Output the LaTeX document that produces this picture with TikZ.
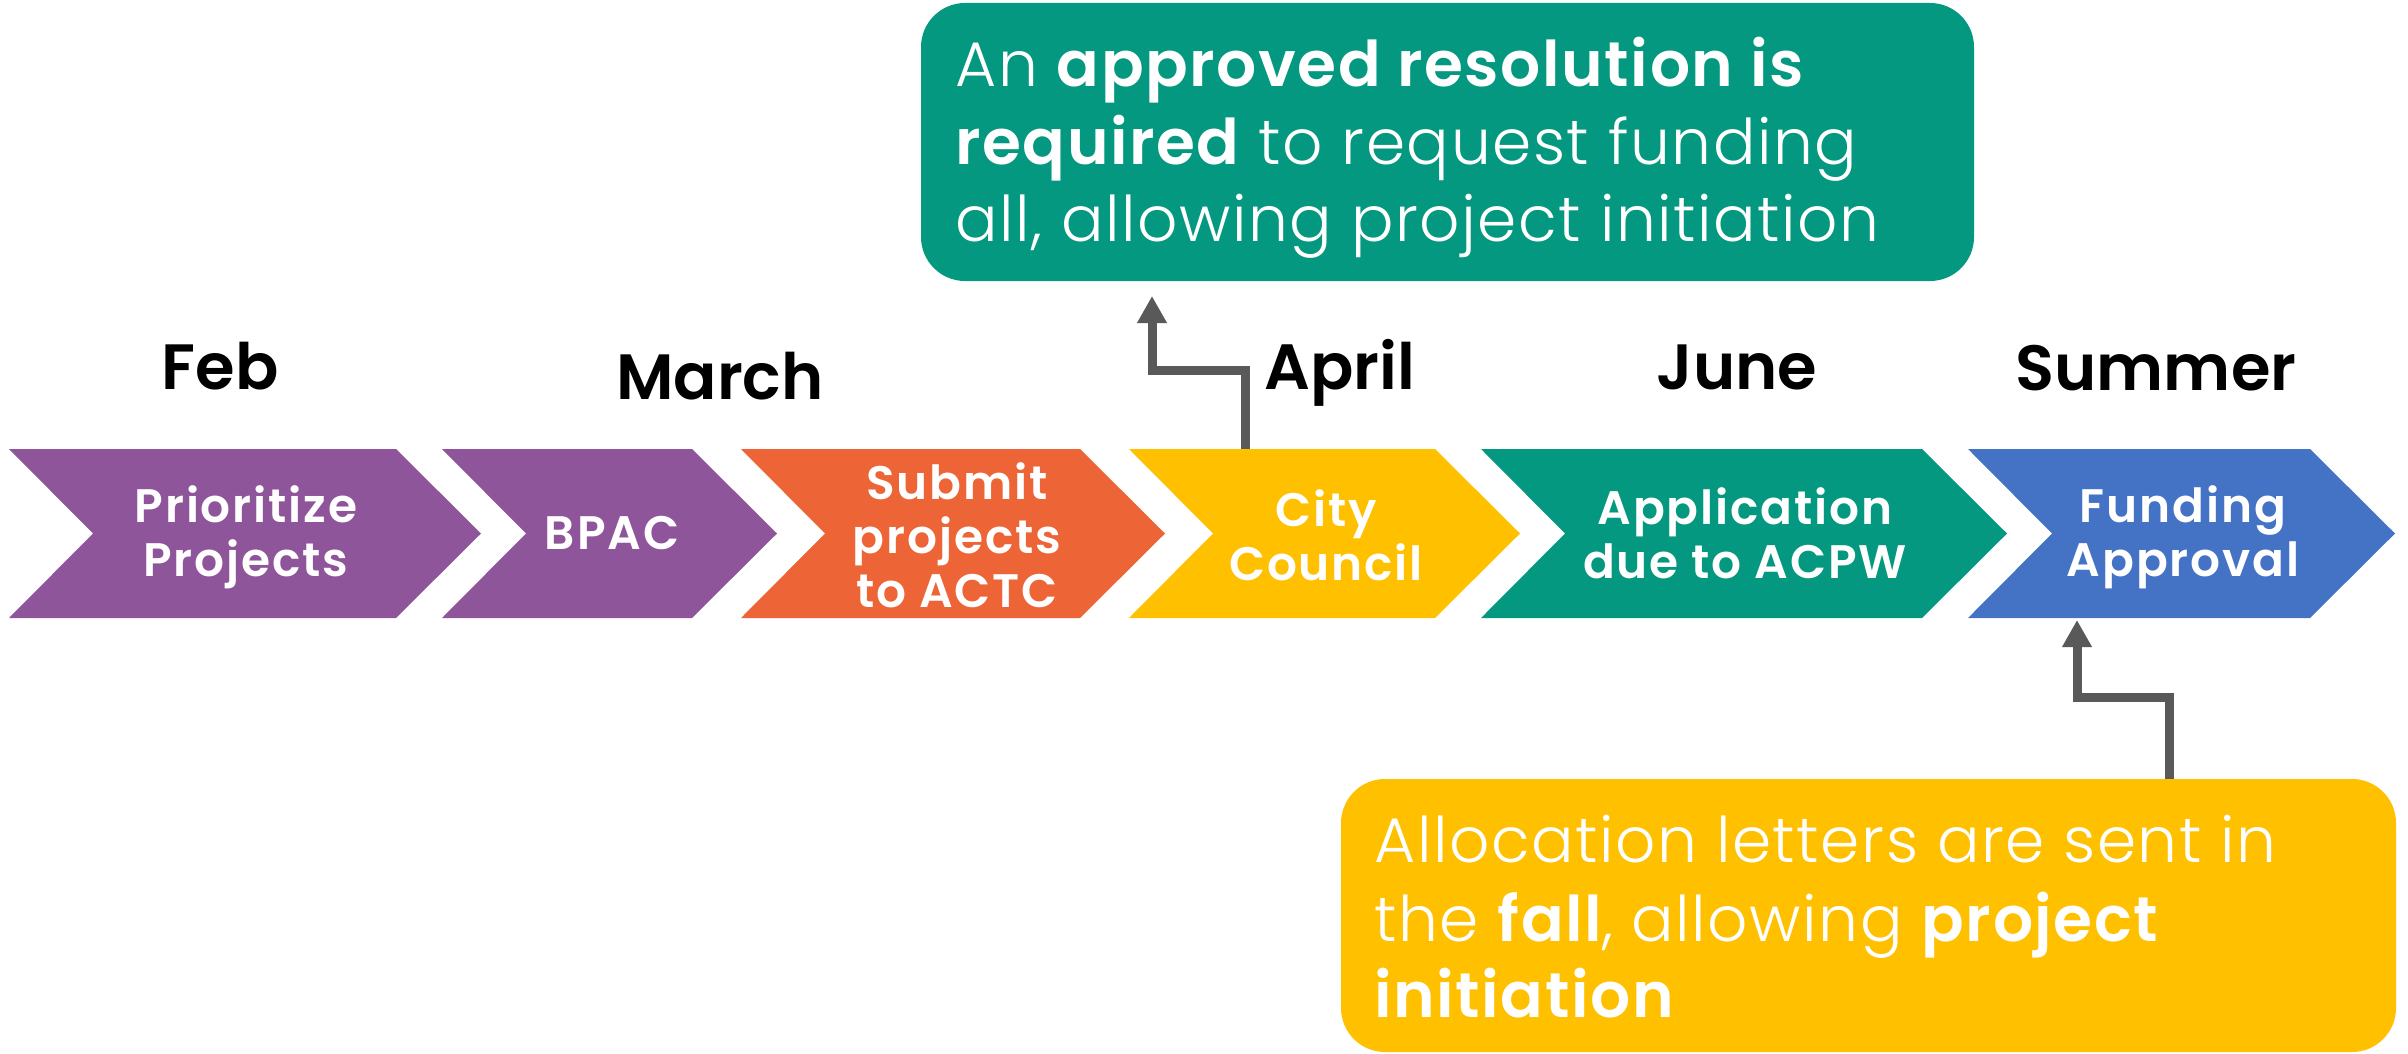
\documentclass[tikz,border=0pt]{standalone}
\usepackage{fontspec}
\setmainfont{Poppins}
\newfontfamily\lightf{Poppins Light}[LetterSpace=2.5]
\newfontfamily\semif{Poppins SemiBold}
\newfontfamily\semiw{Poppins SemiBold}[LetterSpace=2.5]
\newfontfamily\semic{Poppins SemiBold}[LetterSpace=4]
\usetikzlibrary{arrows.meta}
\definecolor{cpurple}{HTML}{8F559A}
\definecolor{corange}{HTML}{ED6436}
\definecolor{cyellow}{HTML}{FFC000}
\definecolor{cteal}{HTML}{03987F}
\definecolor{cblue}{HTML}{4472C4}
\definecolor{cgray}{HTML}{595959}
\newcommand\mychev[3]{%
  \fill[#3] (#1,449) -- (#2,449) -- (#2+85,533.5) -- (#2,618) -- (#1,618) -- (#1+84,533.5) -- cycle;}
\tikzset{
  chevtext/.style={text=white, align=center, inner sep=0pt,
    font=\semic\fontsize{23.5pt}{27pt}\selectfont},
  month/.style={text=black, anchor=base, inner sep=0pt,
    font=\semif\fontsize{32pt}{36pt}\selectfont},
  calltext/.style={text=white, anchor=base west, inner sep=0pt,
    font=\lightf\fontsize{31.5pt}{38pt}\selectfont},
  connector/.style={draw=cgray, line width=4.5pt, miter limit=10,
    -{Triangle[width=14pt,length=13.5pt]}},
}
\begin{document}
\begin{tikzpicture}[x=0.5pt,y=-0.5pt]
\useasboundingbox (0,0) rectangle (2408,1054);
% chevrons
\mychev{9}{396}{cpurple}
\mychev{442}{692}{cpurple}
\mychev{741}{1080}{corange}
\mychev{1129}{1435}{cyellow}
\mychev{1481}{1922}{cteal}
\mychev{1968}{2310}{cblue}
\node[chevtext] (s1) at (246,537) {Prioritize\\Projects};
\node[chevtext] (s2) at (612,533) {BPAC};
\node[chevtext] (s3) at (957,535) {Submit\\projects\\to ACTC};
\node[chevtext] (s4) at (1326,535) {City\\Council};
\node[chevtext] (s5) at (1745,533) {Application\\due to ACPW};
\node[chevtext] (s6) at (2183,537) {Funding\\Approval};
% months
\node[month] (m1) at (220,389) {Feb};
\node[month] (m2) at (720,399) {March};
\node[month] (m3) at (1340,389) {April};
\node[month] (m4) at (1737,389) {June};
\node[month] (m5) at (2156,390) {Summer};
% callouts
\fill[cteal, rounded corners=22pt] (921,3) rectangle (1974,281);
\node[calltext] (a1) at (955,87) {An {\semiw approved resolution is}};
\node[calltext] (a2) at (955,164) {{\semiw required} to request funding};
\node[calltext] (a3) at (955,241) {all, allowing project initiation};
\coordinate (abot) at (1152,284);
\fill[cyellow, rounded corners=22pt] (1341,779) rectangle (2396,1052);
\node[calltext] (b1) at (1374,862) {Allocation letters are sent in};
\node[calltext] (b2) at (1374,941) {the {\semiw fall}, allowing {\semiw project}};
\node[calltext] (b3) at (1374,1017) {\semiw initiation};
% connectors
\coordinate (s4top) at (1245,449);
\coordinate (btop) at (2169,779);
\coordinate (s6bot) at (2077,620);
\draw[connector] (s4top) |- (1198,370) -| (1152,296);
\draw[connector] (btop) |- (2123,697) -| (s6bot);
\end{tikzpicture}
\end{document}
